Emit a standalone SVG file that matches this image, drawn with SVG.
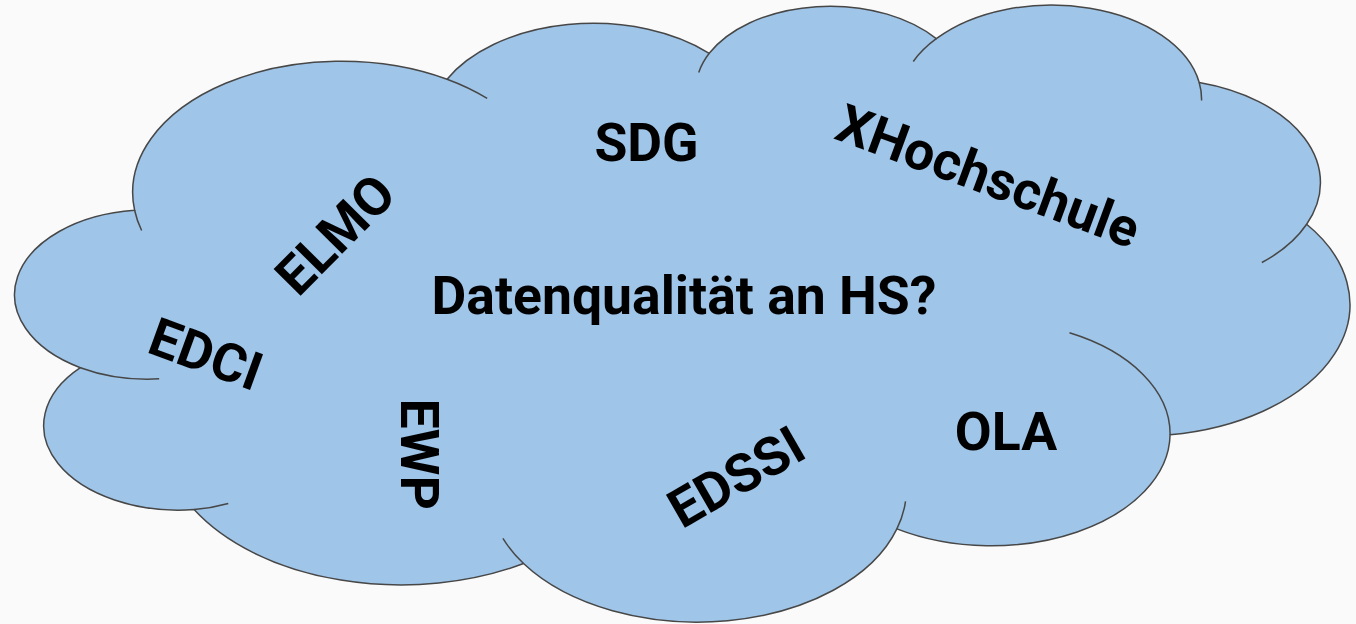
<svg xmlns="http://www.w3.org/2000/svg" width="1356" height="624" viewBox="0 0 1356 624">
  <style>
    .lbl { font-family: Roboto, "Liberation Sans", sans-serif; font-weight: bold; font-size: 53.5px; fill: #000000; }
    .cloud { fill: #9fc5e8; stroke: #474747; stroke-width: 1.5; vector-effect: non-scaling-stroke; }
    .inner { fill: none; stroke: #474747; stroke-width: 1.5; vector-effect: non-scaling-stroke; }
  </style>
  <rect x="0" y="0" width="1356" height="624" fill="#fafafa"/>
  <g id="cloud" transform="translate(14,5) scale(0.030926,0.014282)">
    <path class="cloud" d="M 3900 14370 A 6753 9190 0 0 1 14003 5197 A 5333 7267 0 0 1 22480 3380 A 4365 5945 0 0 1 29822 2360 A 4857 6595 0 0 1 38324 5426 A 5333 7273 0 0 1 41798 15354 A 6775 9220 0 0 1 37382 30093 A 5785 7867 0 0 1 28548 36684 A 6752 9215 0 0 1 16476 39110 A 7720 10543 0 0 1 5824 35330 A 4360 5918 0 0 1 2146 25394 A 4345 5945 0 0 1 3900 14370 Z"/>
    <path class="inner" d="M 4693 26177 A 4345 5945 0 0 1 2146 25394 M 6928 34899 A 4360 5918 0 0 1 5824 35330 M 16476 39110 A 6752 9215 0 0 1 15810 37350 M 28827 34751 A 6752 9215 0 0 1 28548 36684 M 34129 22954 A 5785 7867 0 0 1 37382 30093 M 41798 15354 A 5333 7273 0 0 1 40350 18030 M 38324 5426 A 4857 6595 0 0 1 38400 6690 M 29078 3952 A 4857 6595 0 0 1 29822 2360 M 22141 4720 A 4365 5945 0 0 1 22480 3380 M 14003 5197 A 6753 9190 0 0 1 15300 6540 M 4127 15789 A 6753 9190 0 0 1 3900 14370"/>
  </g>
  <g id="connectors"/>
  <g id="label-main"><text class="lbl" x="684" y="313.5" text-anchor="middle">Datenqualität an HS?</text></g>
  <g id="label-sdg"><text class="lbl" x="646.5" y="160.7" text-anchor="middle">SDG</text></g>
  <g id="label-ola"><text class="lbl" x="1006" y="449.5" text-anchor="middle">OLA</text></g>
  <g id="label-elmo"><text class="lbl" text-anchor="middle" transform="translate(348.5,247.5) rotate(-45.3)">ELMO</text></g>
  <g id="label-edci"><text class="lbl" text-anchor="middle" transform="translate(199.5,371.6) rotate(20)">EDCI</text></g>
  <g id="label-ewp"><text class="lbl" text-anchor="middle" transform="translate(401.3,454.2) rotate(90)">EWP</text></g>
  <g id="label-edssi"><text class="lbl" text-anchor="middle" transform="translate(745.3,493) rotate(-30)">EDSSI</text></g>
  <g id="label-xhochschule"><text class="lbl" text-anchor="middle" transform="translate(982,193.5) rotate(20.3)">XHochschule</text></g>
</svg>
